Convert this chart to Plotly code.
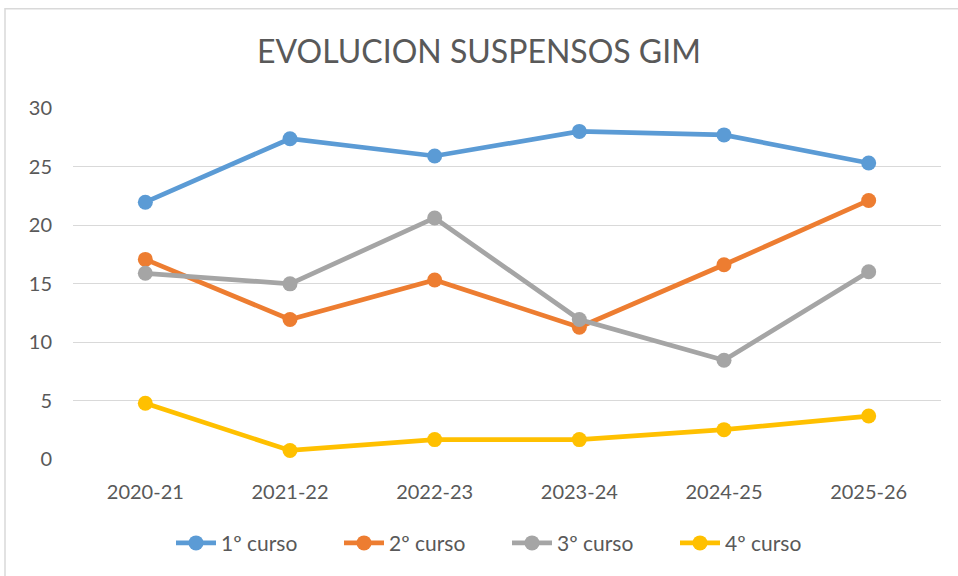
import plotly.graph_objects as go

categories = ["2020-21", "2021-22", "2022-23", "2023-24", "2024-25", "2025-26"]
curso1 = [21.95, 27.37, 25.9, 28.0, 27.7, 25.3]
curso2 = [17.06, 11.92, 15.3, 11.27, 16.6, 22.1]
curso3 = [15.87, 14.97, 20.6, 11.92, 8.44, 16.0]
curso4 = [4.77, 0.73, 1.66, 1.66, 2.51, 3.67]
series_names = ["1º curso", "2º curso", "3º curso", "4º curso"]
colors = ["#5B9BD5", "#ED7D31", "#A5A5A5", "#FFC000"]

fig = go.Figure()
for name, vals, col in zip(series_names, [curso1, curso2, curso3, curso4], colors):
    fig.add_trace(go.Scatter(
        x=categories, y=vals, name=name, mode="lines+markers",
        line=dict(color=col, width=4.7),
        marker=dict(color=col, size=15),
    ))

font_family = "Lato, Open Sans, sans-serif"
fig.update_layout(
    width=958, height=576,
    paper_bgcolor="white", plot_bgcolor="white",
    margin=dict(l=73, r=17, t=108, b=114),
    title=dict(text="EVOLUCION SUSPENSOS GIM", x=0.5, xanchor="center",
               y=1 - 52/576, yref="container", yanchor="middle",
               font=dict(family=font_family, size=32, color="#595959")),
    font=dict(family=font_family, size=20, color="#595959"),
    xaxis=dict(type="category", range=[-0.5, 5.5], showgrid=False, showline=False,
               ticks="", ticklabelstandoff=19,
               tickfont=dict(size=20, color="#595959")),
    yaxis=dict(range=[0, 30], dtick=5, showgrid=True, gridcolor="#D9D9D9", gridwidth=1.3,
               zeroline=False, showline=False, ticks="", ticklabelstandoff=20,
               tickfont=dict(size=20, color="#595959")),
    legend=dict(orientation="h", x=0.5, xanchor="center", y=-0.24, yanchor="middle",
                font=dict(size=21, color="#595959"), traceorder="normal",
                itemwidth=40, entrywidth=113, entrywidthmode="pixels"),
    showlegend=True,
)
fig.add_shape(type="rect", xref="paper", yref="paper",
              x0=-68/868, x1=1 + 30/868, y0=-130/354, y1=1 + 100/354,
              line=dict(color="#D9D9D9", width=1.5), fillcolor="rgba(0,0,0,0)")

fig.write_html("out.html", config={"displayModeBar": False},
               post_script="document.body.style.margin='0';document.body.style.padding='0';")
